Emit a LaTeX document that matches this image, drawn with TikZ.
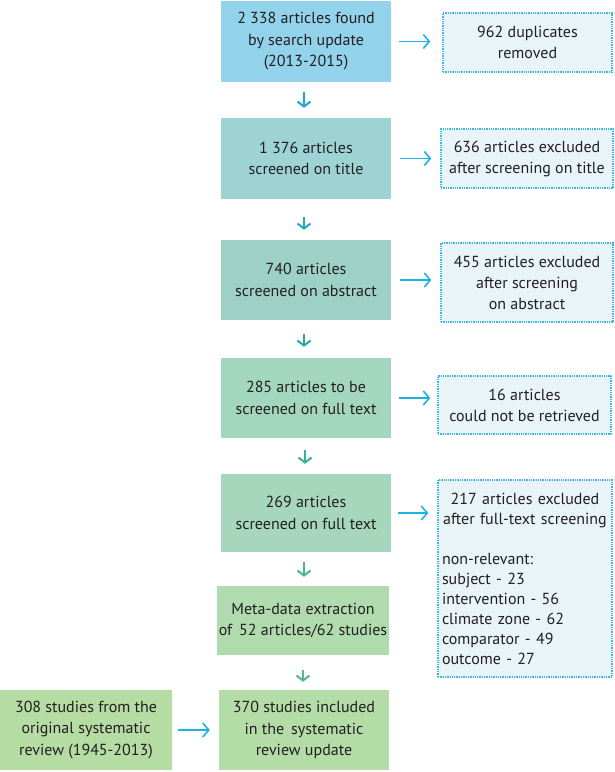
\documentclass[tikz,border=0pt]{standalone}
\usepackage{fontspec}
\setmainfont{PT Sans}
\usetikzlibrary{arrows.meta}
\definecolor{txt}{HTML}{231F20}
\definecolor{cA}{HTML}{92D2EA}
\definecolor{cB}{HTML}{9DD3D5}
\definecolor{cC}{HTML}{9ED1C6}
\definecolor{cD}{HTML}{A3D6BF}
\definecolor{cE}{HTML}{A6D7BC}
\definecolor{cF}{HTML}{B0DBAE}
\definecolor{cG}{HTML}{B3DCA6}
\definecolor{cH}{HTML}{B5DCA2}
\definecolor{sidefill}{HTML}{E8F4F7}
\definecolor{dotcol}{HTML}{3AB6E6}
\definecolor{arrcyan}{HTML}{1EB1E6}
\definecolor{dA}{HTML}{1AA8DA}
\definecolor{dB}{HTML}{1FA8C8}
\definecolor{dC}{HTML}{26A9A6}
\definecolor{dD}{HTML}{3BAF98}
\definecolor{dE}{HTML}{4BB38E}
\definecolor{dF}{HTML}{58B68A}
\begin{document}
\begin{tikzpicture}[x=1pt,y=-1pt,
  mainbox/.style={draw=none, inner sep=2pt, align=center, text=txt,
    font=\fontsize{16}{21.5}\selectfont},
  sidebox/.style={draw=dotcol, densely dotted, line width=1.3pt, fill=sidefill,
    inner sep=2pt, align=center, text=txt, font=\fontsize{16}{21}\selectfont},
  rarrow/.style={draw=arrcyan, line width=1.6pt, solid,
    -{Straight Barb[length=6pt,width=14pt,line width=1.6pt]}},
  darrow/.style={line width=2pt,
    -{Straight Barb[length=5pt,width=13pt,line width=2pt]}}
]
\useasboundingbox (0,0) rectangle (614,772);

% main column
\node[mainbox, fill=cA, minimum width=170pt, minimum height=81pt] (b1) at (306,41.5)
  {2 338 articles found\\by search update\\(2013-2015)};
\node[mainbox, fill=cB, minimum width=170pt, minimum height=81pt] (b2) at (306,158.5)
  {1 376 articles\\screened on title};
\node[mainbox, fill=cC, minimum width=170pt, minimum height=80pt] (b3) at (306,280)
  {740 articles\\screened on abstract};
\node[mainbox, fill=cD, minimum width=170pt, minimum height=80pt] (b4) at (306,398)
  {285 articles to be\\screened on full text};
\node[mainbox, fill=cE, minimum width=170pt, minimum height=78pt] (b5) at (306,513)
  {269 articles\\screened on full text};
\node[mainbox, fill=cF, minimum width=170pt, minimum height=69pt] (b6) at (303,620.5)
  {Meta-data extraction\\of\, 52 articles/62 studies};
\node[mainbox, fill=cG, minimum width=170pt, minimum height=80pt] (b7) at (304,730)
  {370 studies included\\in the\, systematic\\review update};
\node[mainbox, fill=cH, minimum width=172pt, minimum height=80pt] (b0) at (86,730)
  {308 studies from the\\original systematic\\review (1945-2013)};

% side boxes
\node[sidebox, minimum width=169pt, minimum height=59pt] (s1) at (527.5,42.5)
  {962 duplicates\\removed};
\node[sidebox, minimum width=172pt, minimum height=59pt] (s2) at (527,158.5)
  {636 articles excluded\\after screening on title};
\node[sidebox, minimum width=172pt, minimum height=79pt] (s3) at (527,282.5)
  {455 articles excluded\\after screening\\on abstract};
\node[sidebox, minimum width=173pt, minimum height=58pt] (s4) at (524.5,405)
  {16 articles\\could not be retrieved};
\node[sidebox, minimum width=174pt, minimum height=197pt, text width=166pt,
      font=\fontsize{16}{20}\selectfont, align=left] (s5) at (525,578.5)
  {\centering 217 articles excluded\\after full-text screening\par
   \vspace{20pt}\raggedright non-relevant:\\subject - 23\\intervention - 56\\climate zone - 62\\comparator - 49\\outcome - 27\par};

% right arrows
\draw[rarrow, shorten <=8pt, shorten >=12pt] (b1.east) -- (b1.east -| s1.west);
\draw[rarrow, shorten <=9pt, shorten >=9pt] (b2.east) -- (b2.east -| s2.west);
\draw[rarrow, shorten <=9pt, shorten >=9pt] (b3.east) -- (b3.east -| s3.west);
\draw[rarrow, shorten <=8pt, shorten >=7pt] (b4.east) -- (b4.east -| s4.west);
\draw[rarrow, shorten <=7pt, shorten >=9pt] (b5.east) -- (b5.east -| s5.west);
\draw[rarrow, shorten <=6pt, shorten >=9pt] (b0.east) -- (b7.west);

% down arrows
\draw[darrow, draw=dA, shorten <=10pt, shorten >=10pt] (b1.south -| 304,0) -- (b2.north -| 304,0);
\draw[darrow, draw=dB, shorten <=18pt, shorten >=10pt] (b2.south -| 304,0) -- (b3.north -| 304,0);
\draw[darrow, draw=dC, shorten <=14pt, shorten >=11pt] (b3.south -| 304,0) -- (b4.north -| 304,0);
\draw[darrow, draw=dD, shorten <=12pt, shorten >=10pt] (b4.south -| 305,0) -- (b5.north -| 305,0);
\draw[darrow, draw=dE, shorten <=10pt, shorten >=9pt] (b5.south -| 304,0) -- (b6.north -| 304,0);
\draw[darrow, draw=dF, shorten <=15pt, shorten >=8pt] (b6.south -| 303,0) -- (b7.north -| 303,0);
\end{tikzpicture}
\end{document}
